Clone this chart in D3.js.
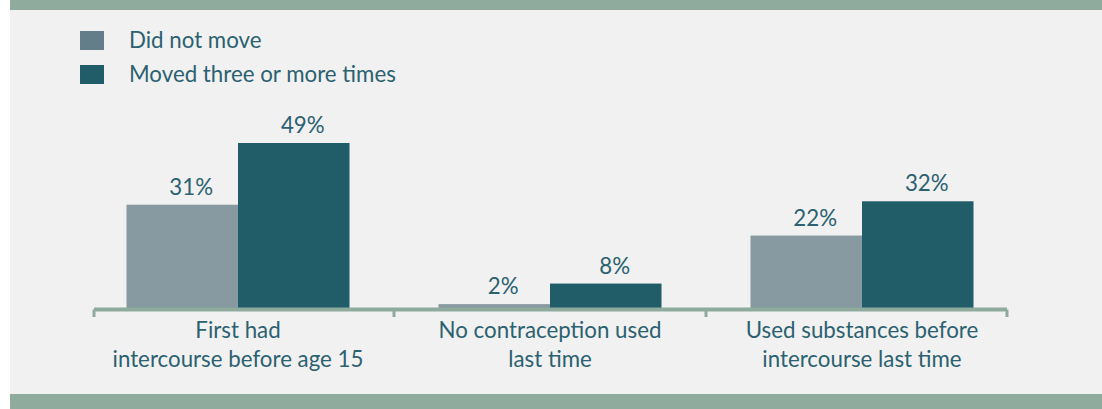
<!DOCTYPE html>
<html>
<head>
<meta charset="utf-8">
<script src="https://cdn.jsdelivr.net/npm/d3@7"></script>
<style>
  html, body { margin: 0; padding: 0; background: #ffffff; }
  svg { display: block; }
</style>
</head>
<body>
<svg id="chart" width="1102" height="409"></svg>
<script>
const categories = [
  ["First had", "intercourse before age 15"],
  ["No contraception used", "last time"],
  ["Used substances before", "intercourse last time"]
];
const seriesNames = ["Did not move", "Moved three or more times"];
const didNotMove = [31, 2, 22];
const movedThreePlus = [49, 8, 32];

const W = 1102, H = 409;
const FONT = "Lato, 'Open Sans', sans-serif";
const FS = 22.3;
const textColor = "#2b6170";
const barColors = ["#8799a1", "#215c69"];
const legendColors = ["#637e89", "#215c69"];
const bandColor = "#8eab9d";
const panelColor = "#f1f1f1";

const svg = d3.select("#chart");

// panel and bands
svg.append("rect").attr("x", 10).attr("y", 0).attr("width", W - 10).attr("height", H).attr("fill", panelColor);
svg.append("rect").attr("x", 10).attr("y", 0).attr("width", W - 10).attr("height", 10).attr("fill", bandColor);
svg.append("rect").attr("x", 10).attr("y", 394).attr("width", W - 10).attr("height", H - 394).attr("fill", bandColor);

// scales
const idx = categories.map((d, i) => i);
const x = d3.scaleBand().domain(idx).range([82, 1018]).paddingInner(0).paddingOuter(0);
const xs = d3.scaleBand().domain([0, 1])
  .range([x.bandwidth() * 0.1426, x.bandwidth() * 0.8574]).padding(0);
const y = d3.scaleLinear().domain([0, 49]).range([311, 143]);

const data = [didNotMove, movedThreePlus];

// bars
data.forEach((vals, s) => {
  svg.append("g").selectAll("rect").data(vals).join("rect")
    .attr("x", (d, i) => x(i) + xs(s))
    .attr("width", xs.bandwidth())
    .attr("y", d => y(d))
    .attr("height", d => y(0) - y(d))
    .attr("fill", barColors[s]);
  svg.append("g").selectAll("text").data(vals).join("text")
    .attr("x", (d, i) => x(i) + xs(s) + xs.bandwidth() / 2 + 9)
    .attr("y", d => y(d) - 10)
    .attr("text-anchor", "middle")
    .attr("font-family", FONT).attr("font-size", FS)
    .attr("fill", textColor)
    .text(d => d + "%");
});

// axis line and ticks
const axisY = 309.5;
const x0 = x.range()[0] + 12, x1 = x.range()[1] - 11;
const ax = svg.append("g");
ax.append("line").attr("x1", x0).attr("x2", x1).attr("y1", axisY).attr("y2", axisY)
  .attr("stroke", bandColor).attr("stroke-width", 4);
const tickXs = [x0].concat(idx.slice(1).map(i => x(i))).concat([x1]);
ax.selectAll("line.tick").data(tickXs).join("line").attr("class", "tick")
  .attr("x1", d => d).attr("x2", d => d)
  .attr("y1", axisY).attr("y2", 317)
  .attr("stroke", bandColor).attr("stroke-width", 3);

// category labels
const cl = svg.append("g");
categories.forEach((lines, i) => {
  const t = cl.append("text")
    .attr("x", x(i) + x.bandwidth() / 2)
    .attr("text-anchor", "middle")
    .attr("font-family", FONT).attr("font-size", FS)
    .attr("fill", textColor);
  lines.forEach((ln, j) => {
    t.append("tspan").attr("x", x(i) + x.bandwidth() / 2).attr("y", 338 + j * 29).text(ln);
  });
});

// legend
const lg = svg.append("g");
seriesNames.forEach((name, i) => {
  const cy = 40.5 + i * 34;
  lg.append("rect").attr("x", 80).attr("y", cy - 9.5).attr("width", 24).attr("height", 19).attr("fill", legendColors[i]);
  lg.append("text").attr("x", 129).attr("y", cy + 7.5)
    .attr("font-family", FONT).attr("font-size", FS).attr("fill", textColor).text(name);
});
</script>
</body>
</html>
